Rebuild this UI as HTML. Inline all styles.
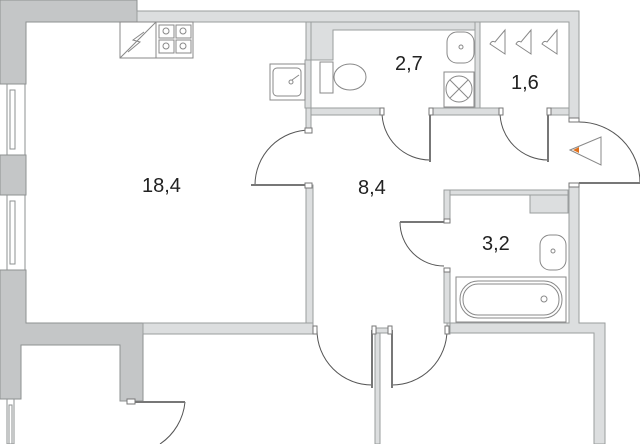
<!DOCTYPE html>
<html><head><meta charset="utf-8"><style>
html,body{margin:0;padding:0;background:#fff;}
svg{display:block;}
text{font-family:"Liberation Sans",sans-serif;fill:#222;}
</style></head><body>
<svg width="640" height="444" viewBox="0 0 640 444" xmlns="http://www.w3.org/2000/svg">
<g fill="#c4c6c7" stroke="#8e9192" stroke-width="1">
<!-- thick outer walls -->
<path d="M0,0 H137 V22 H26 V84 H0 Z"/>
<path d="M0,155 H26 V195 H0 Z"/>
<path d="M0,270 H26 V323 H143 V401 H120 V345 H21 V399 H0 Z"/>
</g>
<!-- windows -->
<g fill="#fff" stroke="#8e9192" stroke-width="1">
<rect x="7" y="84" width="18" height="71"/>
<rect x="10" y="90" width="5" height="59"/>
<rect x="7" y="195" width="18" height="75"/>
<rect x="10" y="201" width="5" height="63"/>
<rect x="7" y="399" width="7" height="45"/>
<rect x="9" y="405" width="3" height="39"/>
</g>
<g fill="#dcdedf" stroke="#9a9d9e" stroke-width="1">
<!-- top thin wall -->
<path d="M137,11 H579 V120 H569 V22 H137 Z"/>
<path d="M569,183 H579 V323 H605 V444 H594 V333 H450 V270 H444 V323 H569 Z"/>
<rect x="444" y="190" width="124" height="5"/>
<rect x="444" y="190" width="6" height="32"/>
<rect x="530" y="195" width="38" height="18"/>
<!-- kitchen wall -->
<rect x="306" y="22" width="5" height="108"/>
<rect x="306" y="185" width="7" height="138"/>
<!-- WC walls -->
<path d="M311,22 H475 V30 H333 V60 H311 Z"/>
<rect x="305" y="60" width="6" height="48"/>
<rect x="475" y="22" width="5" height="86"/>
<rect x="311" y="108" width="71" height="7"/>
<rect x="432" y="108" width="68" height="7"/>
<rect x="549" y="108" width="20" height="7"/>
<!-- bottom thin walls -->
<rect x="143" y="323" width="170" height="11"/>
<rect x="447" y="323" width="3" height="11"/>
<rect x="375" y="330" width="5" height="114"/>
<rect x="372" y="328" width="20" height="5"/>
</g>
<!-- doors -->
<g fill="none" stroke="#555" stroke-width="1">
<path d="M310,130 A55,55 0 0 0 255,185"/>
<line x1="251" y1="185" x2="310" y2="185" stroke-width="2" stroke="#777"/>
<path d="M382,112 A48,48 0 0 0 430,160"/>
<line x1="430" y1="112" x2="430" y2="162" stroke-width="2" stroke="#777"/>
<path d="M500,112 A48,48 0 0 0 548,160"/>
<line x1="548" y1="112" x2="548" y2="162" stroke-width="2" stroke="#777"/>
<path d="M579,122 A61,61 0 0 1 640,183"/>
<line x1="579" y1="183" x2="640" y2="183" stroke-width="2" stroke="#777"/>
<path d="M400,222 A44,44 0 0 0 444,266"/>
<line x1="400" y1="222" x2="444" y2="222" stroke-width="2" stroke="#777"/>
<path d="M317,330 A55,55 0 0 0 372,385"/>
<line x1="372" y1="330" x2="372" y2="388" stroke-width="2" stroke="#777"/>
<path d="M447,330 A55,55 0 0 1 392,385"/>
<line x1="392" y1="330" x2="392" y2="388" stroke-width="2" stroke="#777"/>
<path d="M185,402 A57,57 0 0 1 160,444"/>
<line x1="128" y1="402" x2="185" y2="402" stroke-width="2" stroke="#777"/>
</g>
<!-- jambs -->
<g fill="#fff" stroke="#777" stroke-width="1">
<rect x="305" y="128" width="7" height="5"/><rect x="305" y="183" width="7" height="5"/>
<rect x="380" y="108" width="4" height="7"/><rect x="429" y="108" width="4" height="7"/>
<rect x="499" y="108" width="4" height="7"/><rect x="547" y="108" width="4" height="7"/>
<rect x="569" y="118" width="10" height="4"/><rect x="569" y="183" width="10" height="4"/>
<rect x="444" y="219" width="6" height="4"/><rect x="444" y="268" width="6" height="4"/>
<rect x="313" y="326" width="4" height="8"/><rect x="372" y="326" width="4" height="8"/>
<rect x="388" y="326" width="4" height="8"/><rect x="445" y="326" width="4" height="8"/>
<rect x="127" y="399" width="8" height="5"/>
</g>
<!-- kitchen fixtures -->
<g fill="none" stroke="#888" stroke-width="1">
<rect x="120" y="22" width="73" height="36" fill="#fff"/>
<line x1="156" y1="22" x2="156" y2="58"/>
<line x1="120" y1="58" x2="156" y2="22"/>
<path d="M144,32 L133,40 L140,42 L128,52" />
<rect x="159" y="25" width="15" height="13"/><rect x="176" y="25" width="15" height="13"/>
<rect x="159" y="40" width="15" height="13"/><rect x="176" y="40" width="15" height="13"/>
<circle cx="166" cy="31" r="3"/><circle cx="183" cy="31" r="3"/>
<circle cx="166" cy="46" r="3"/><circle cx="183" cy="46" r="3"/>
<rect x="270" y="64" width="35" height="36"/>
<rect x="273" y="68" width="28" height="28" rx="4"/>
<line x1="292" y1="80" x2="299" y2="75"/><circle cx="291" cy="82" r="2"/>
<!-- WC -->
<rect x="320" y="62" width="13" height="31"/>
<ellipse cx="350" cy="77" rx="16" ry="13"/>
<rect x="447" y="32" width="27" height="31" rx="10"/>
<circle cx="461" cy="47" r="2"/>
<rect x="444" y="72" width="30" height="35"/>
<circle cx="459" cy="89" r="13"/>
<line x1="450" y1="80" x2="468" y2="98"/><line x1="468" y1="80" x2="450" y2="98"/>
<!-- hangers -->
<path d="M490,44 q2,-4 5,-2 l10,-12 v24 z"/>
<path d="M516,44 q2,-4 5,-2 l10,-12 v24 z"/>
<path d="M542,44 q2,-4 5,-2 l10,-12 v24 z"/>
<!-- bath -->
<rect x="540" y="235" width="26" height="35" rx="10"/>
<circle cx="553" cy="251" r="2"/>
<rect x="456" y="277" width="110" height="45"/>
<rect x="460" y="281" width="102" height="37" rx="18"/>
<rect x="463" y="284" width="96" height="31" rx="15"/>
<circle cx="544" cy="299" r="3"/>
<!-- entrance triangle -->
<path d="M570,150 L601,137 L601,165 Z"/>
</g>
<path d="M573,150 L579,147 L579,153 Z" fill="#e0701c"/>
<text x="142" y="192" font-size="20">18,4</text>
<text x="358" y="194" font-size="20">8,4</text>
<text x="395" y="70" font-size="20">2,7</text>
<text x="511" y="89" font-size="20">1,6</text>
<text x="482" y="250" font-size="20">3,2</text>
</svg>
</body></html>
